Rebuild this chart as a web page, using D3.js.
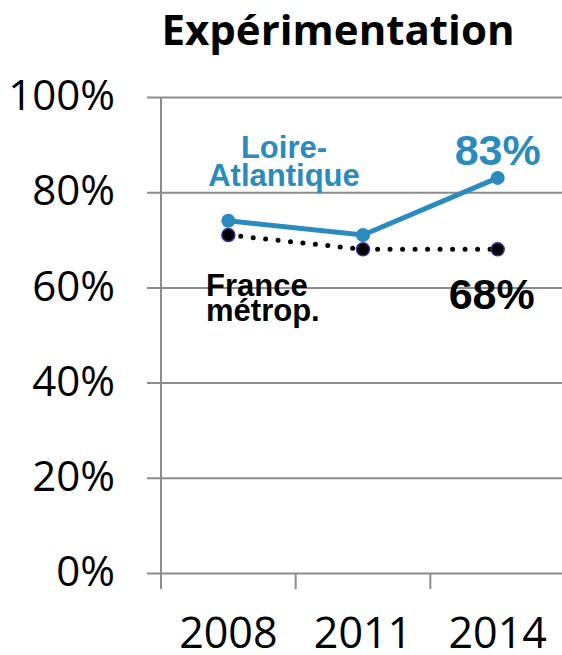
<!DOCTYPE html>
<html>
<head>
<meta charset="utf-8">
<script src="https://cdn.jsdelivr.net/npm/d3@7"></script>
<style>
  body { margin: 0; background: #fff; }
  .tick text { font-family: "Open Sans", sans-serif; fill: #000; }
</style>
</head>
<body>
<svg class="chart-frame"></svg>
<script>
const years = ["2008", "2011", "2014"];
const loireValues = [74, 71, 83];
const franceValues = [71, 68, 68];
const yTicks = [0, 20, 40, 60, 80, 100];

const width = 562, height = 655;
const margin = {top: 97, right: -3, bottom: 80, left: 161};

const svg = d3.select(".chart-frame")
  .attr("width", width)
  .attr("height", height);

svg.append("text")
  .attr("x", 338)
  .attr("y", 45)
  .attr("text-anchor", "middle")
  .style("font-family", "'Open Sans', sans-serif")
  .style("font-weight", "bold")
  .style("font-size", "42px")
  .text("Expérimentation");

const xScale = d3.scaleBand()
  .domain(years)
  .range([margin.left, width - margin.right]);

const yScale = d3.scaleLinear()
  .domain([0, 100])
  .range([height - margin.bottom - 2, margin.top]);

// horizontal gridlines + y labels
const yAxis = d3.axisLeft(yScale)
  .tickValues(yTicks)
  .tickSize(-(width - margin.left + 14))
  .tickPadding(32)
  .tickFormat(d => d + "%");

const yG = svg.append("g")
  .attr("transform", "translate(" + (margin.left - 14) + ",0)")
  .call(yAxis);
yG.select(".domain").remove();
yG.selectAll("line").attr("stroke", "#8c8c8c").attr("stroke-width", 2).attr("x1", 0);
yG.selectAll("text").style("font-size", "42px").attr("dy", "0.3em");

// vertical axis line
svg.append("line")
  .attr("x1", margin.left).attr("x2", margin.left)
  .attr("y1", yScale(100)).attr("y2", yScale(0) + 16)
  .attr("stroke", "#8c8c8c").attr("stroke-width", 2);

// x axis
const xAxis = d3.axisBottom(xScale)
  .tickSize(0)
  .tickPadding(44);
const xG = svg.append("g")
  .attr("transform", "translate(0," + yScale(0) + ")")
  .call(xAxis);
xG.select(".domain").remove();
xG.selectAll("text").style("font-size", "43px");

// x tick marks at band boundaries
svg.selectAll(".xtick")
  .data(years)
  .enter().append("line")
  .attr("x1", d => xScale(d)).attr("x2", d => xScale(d))
  .attr("y1", yScale(0)).attr("y2", yScale(0) + 16)
  .attr("stroke", "#8c8c8c").attr("stroke-width", 2);

const cx = d => xScale(d) + xScale.bandwidth() / 2;

const franceData = years.map((y, i) => ({year: y, value: franceValues[i]}));
const loireData = years.map((y, i) => ({year: y, value: loireValues[i]}));

const line = d3.line()
  .x(d => cx(d.year))
  .y(d => yScale(d.value));

// France dotted line
svg.append("path")
  .datum(franceData)
  .attr("d", line)
  .attr("fill", "none")
  .attr("stroke", "#000")
  .attr("stroke-width", 5)
  .attr("stroke-linecap", "round")
  .attr("stroke-dasharray", "0,12.5");

svg.selectAll(".france-dot")
  .data(franceData)
  .enter().append("circle")
  .attr("cx", d => cx(d.year))
  .attr("cy", d => yScale(d.value))
  .attr("r", 6.5)
  .attr("fill", "#000")
  .attr("stroke", "#3b2d9a")
  .attr("stroke-width", 1.5);

// Loire-Atlantique line
svg.append("path")
  .datum(loireData)
  .attr("d", line)
  .attr("fill", "none")
  .attr("stroke", "#2a8bbf")
  .attr("stroke-width", 5);

svg.selectAll(".loire-dot")
  .data(loireData)
  .enter().append("circle")
  .attr("cx", d => cx(d.year))
  .attr("cy", d => yScale(d.value))
  .attr("r", 7)
  .attr("fill", "#2a8bbf");

// series labels
const labelFont = "'Liberation Sans', Arial, sans-serif";

const loireLabel = svg.append("text")
  .attr("text-anchor", "middle")
  .style("font-family", labelFont)
  .style("font-weight", "bold")
  .style("font-size", "31px")
  .attr("fill", "#2a8bbf");
loireLabel.append("tspan").attr("x", 284).attr("y", 158).text("Loire-");
loireLabel.append("tspan").attr("x", 284).attr("y", 186).text("Atlantique");

svg.append("text")
  .attr("x", cx("2014"))
  .attr("y", 165)
  .attr("text-anchor", "middle")
  .style("font-family", labelFont)
  .style("font-weight", "bold")
  .style("font-size", "43px")
  .attr("fill", "#2a8bbf")
  .text(loireValues[2] + "%");

const franceLabel = svg.append("text")
  .style("font-family", labelFont)
  .style("font-weight", "bold")
  .style("font-size", "31px")
  .attr("fill", "#000");
franceLabel.append("tspan").attr("x", 206).attr("y", 296).text("France");
franceLabel.append("tspan").attr("x", 206).attr("y", 321).text("métrop.");

svg.append("text")
  .attr("x", cx("2014") - 6)
  .attr("y", 309)
  .attr("text-anchor", "middle")
  .style("font-family", labelFont)
  .style("font-weight", "bold")
  .style("font-size", "43px")
  .attr("fill", "#000")
  .text(franceValues[2] + "%");
</script>
</body>
</html>
